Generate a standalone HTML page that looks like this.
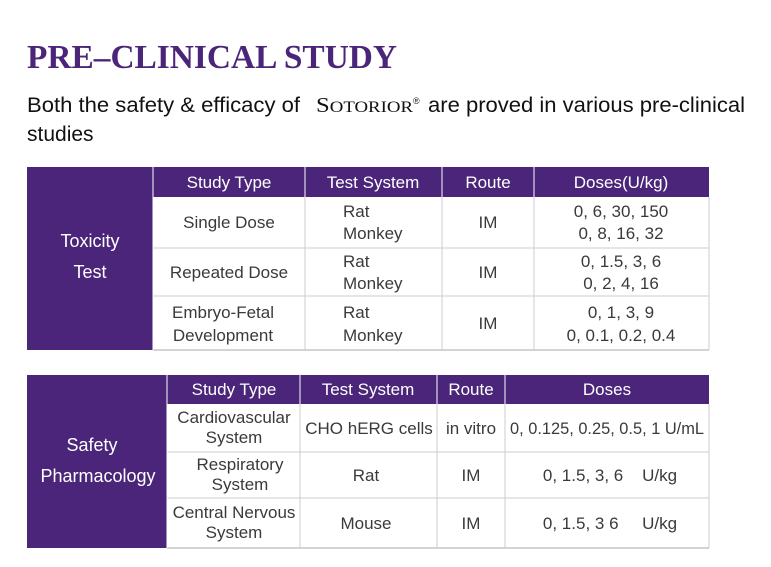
<!DOCTYPE html>
<html><head><meta charset="utf-8"><style>
html,body{margin:0;padding:0;background:#fff;}
svg{display:block;}
text{font-family:"Liberation Sans",Arial,sans-serif;}
.h{fill:#fff;font-size:17px;text-anchor:middle;}
.c{fill:#3a3a3a;font-size:17px;text-anchor:middle;}
.l{fill:#3a3a3a;font-size:17px;}
.side{fill:#fff;font-size:18px;text-anchor:middle;}
</style></head><body>
<svg width="771" height="567" viewBox="0 0 771 567">
<text x="27" y="68" style="font-family:'Liberation Serif',serif;font-weight:bold;font-size:34px;fill:#4b2579" textLength="370" lengthAdjust="spacingAndGlyphs">PRE–CLINICAL STUDY</text>
<text x="27" y="112" style="font-size:21px;fill:#111" textLength="273" lengthAdjust="spacingAndGlyphs">Both the safety &amp; efficacy of</text>
<text x="316" y="112" style="font-family:'Liberation Serif',serif;font-size:21px;fill:#111" textLength="97" lengthAdjust="spacingAndGlyphs">S<tspan style="font-size:16px">OTORIOR</tspan></text>
<text x="413" y="104" style="font-size:9px;fill:#111">®</text>
<text x="428" y="112" style="font-size:21px;fill:#111" textLength="317" lengthAdjust="spacingAndGlyphs">are proved in various pre-clinical</text>
<text x="27" y="141" style="font-size:21px;fill:#111">studies</text>

<g>
<rect x="27" y="167" width="126" height="183" fill="#4b2579"/>
<rect x="153" y="167" width="556" height="30" fill="#4b2579"/>
<g stroke="#ccc" stroke-width="1">
<line x1="153" y1="248" x2="709" y2="248"/><line x1="153" y1="296" x2="709" y2="296"/>
<line x1="153" y1="350" x2="709" y2="350" stroke="#aaa"/>
<line x1="305" y1="197" x2="305" y2="350"/><line x1="442" y1="197" x2="442" y2="350"/>
<line x1="534" y1="197" x2="534" y2="350"/><line x1="709" y1="197" x2="709" y2="350"/>
</g>
<g stroke="#fff" stroke-width="1"><line x1="153" y1="167" x2="153" y2="350"/><line x1="305" y1="167" x2="305" y2="197"/><line x1="442" y1="167" x2="442" y2="197"/><line x1="534" y1="167" x2="534" y2="197"/></g>
<text class="side" x="90" y="247">Toxicity</text><text class="side" x="90" y="278">Test</text>
<text class="h" x="229" y="188">Study Type</text><text class="h" x="373" y="188">Test System</text>
<text class="h" x="488" y="188">Route</text><text class="h" x="621" y="188">Doses(U/kg)</text>
<text class="c" x="229" y="228">Single Dose</text>
<text class="l" x="343" y="217">Rat</text><text class="l" x="343" y="239">Monkey</text>
<text class="c" x="488" y="228">IM</text>
<text class="c" x="621" y="217">0, 6, 30, 150</text><text class="c" x="621" y="239">0, 8, 16, 32</text>
<text class="c" x="229" y="278">Repeated Dose</text>
<text class="l" x="343" y="267">Rat</text><text class="l" x="343" y="289">Monkey</text>
<text class="c" x="488" y="278">IM</text>
<text class="c" x="621" y="267">0, 1.5, 3, 6</text><text class="c" x="621" y="289">0, 2, 4, 16</text>
<text class="c" x="223" y="318">Embryo-Fetal</text><text class="c" x="223" y="341">Development</text>
<text class="l" x="343" y="318">Rat</text><text class="l" x="343" y="341">Monkey</text>
<text class="c" x="488" y="329">IM</text>
<text class="c" x="621" y="318">0, 1, 3, 9</text><text class="c" x="621" y="341">0, 0.1, 0.2, 0.4</text>
</g>

<g>
<rect x="27" y="375" width="140" height="173" fill="#4b2579"/>
<rect x="167" y="375" width="542" height="29" fill="#4b2579"/>
<g stroke="#ccc" stroke-width="1">
<line x1="167" y1="452" x2="709" y2="452"/><line x1="167" y1="498" x2="709" y2="498"/>
<line x1="167" y1="548" x2="709" y2="548" stroke="#aaa"/>
<line x1="300" y1="404" x2="300" y2="548"/><line x1="437" y1="404" x2="437" y2="548"/>
<line x1="505" y1="404" x2="505" y2="548"/><line x1="709" y1="404" x2="709" y2="548"/>
</g>
<g stroke="#fff" stroke-width="1"><line x1="167" y1="375" x2="167" y2="548"/><line x1="300" y1="375" x2="300" y2="404"/><line x1="437" y1="375" x2="437" y2="404"/><line x1="505" y1="375" x2="505" y2="404"/></g>
<text class="side" x="92" y="451">Safety</text><text class="side" x="98" y="482">Pharmacology</text>
<text class="h" x="234" y="395">Study Type</text><text class="h" x="368" y="395">Test System</text>
<text class="h" x="471" y="395">Route</text><text class="h" x="607" y="395">Doses</text>
<text class="c" x="234" y="423">Cardiovascular</text><text class="c" x="234" y="443">System</text>
<text class="c" x="369" y="434">CHO hERG cells</text>
<text class="c" x="471" y="434">in vitro</text>
<text class="c" x="607" y="434" textLength="194" lengthAdjust="spacingAndGlyphs">0, 0.125, 0.25, 0.5, 1 U/mL</text>
<text class="c" x="240" y="470">Respiratory</text><text class="c" x="240" y="490">System</text>
<text class="c" x="366" y="481">Rat</text>
<text class="c" x="471" y="481">IM</text>
<text class="c" x="610" y="481">0, 1.5, 3, 6 &#160;&#160;&#160;U/kg</text>
<text class="c" x="234" y="518">Central Nervous</text><text class="c" x="234" y="538">System</text>
<text class="c" x="366" y="529">Mouse</text>
<text class="c" x="471" y="529">IM</text>
<text class="c" x="610" y="529">0, 1.5, 3 6 &#160;&#160;&#160;&#160;U/kg</text>
</g>
</svg>
</body></html>
